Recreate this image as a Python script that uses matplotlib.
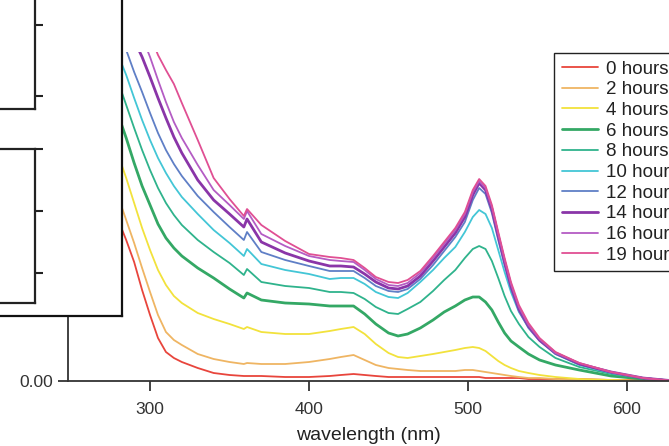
import matplotlib
matplotlib.use("Agg")
import matplotlib.pyplot as plt
from matplotlib.ticker import FormatStrFormatter

plt.rcParams['font.family'] = ['Liberation Sans', 'DejaVu Sans']

# ---------------- data ----------------
wavelength = [280, 285, 290, 295, 300, 305, 310, 315, 320, 330, 340, 350, 359, 361, 370,
              385, 400, 413, 420, 428, 435, 442, 450, 456, 462, 470, 478, 485, 492, 498,
              503, 507, 511, 515, 519, 523, 527, 532, 538, 545, 555, 570, 590, 610, 630]

abs_0h = [0.805, 0.705, 0.595, 0.455, 0.330, 0.215, 0.145, 0.115, 0.095, 0.065,
          0.040, 0.030, 0.025, 0.025, 0.025, 0.020, 0.020,
          0.025, 0.030, 0.035, 0.030, 0.025, 0.020, 0.020, 0.020, 0.020, 0.020,
          0.020, 0.020, 0.020, 0.020, 0.020, 0.015, 0.015, 0.015, 0.015, 0.015,
          0.015, 0.010, 0.010, 0.010, 0.010, 0.005, 0.005, 0.000]
abs_2h = [0.920, 0.805, 0.690, 0.565, 0.445, 0.330, 0.245, 0.205, 0.180, 0.135,
          0.110, 0.095, 0.085, 0.090, 0.085, 0.085, 0.095,
          0.110, 0.120, 0.130, 0.105, 0.080, 0.065, 0.060, 0.055, 0.050, 0.050,
          0.050, 0.050, 0.055, 0.055, 0.050, 0.045, 0.040, 0.035, 0.030, 0.025,
          0.020, 0.015, 0.015, 0.010, 0.005, 0.005, 0.000, 0.000]
abs_4h = [1.130, 1.015, 0.890, 0.765, 0.655, 0.555, 0.480, 0.425, 0.390, 0.340,
          0.310, 0.285, 0.260, 0.270, 0.245, 0.235, 0.235,
          0.250, 0.260, 0.270, 0.235, 0.185, 0.140, 0.120, 0.115, 0.125, 0.135,
          0.145, 0.155, 0.165, 0.170, 0.165, 0.150, 0.125, 0.100, 0.080, 0.065,
          0.050, 0.040, 0.030, 0.020, 0.010, 0.005, 0.000, 0.000]
abs_6h = [1.330, 1.215, 1.090, 0.975, 0.880, 0.785, 0.715, 0.665, 0.625, 0.565,
          0.515, 0.460, 0.415, 0.440, 0.405, 0.390, 0.385,
          0.375, 0.375, 0.375, 0.335, 0.285, 0.240, 0.225, 0.235, 0.265, 0.305,
          0.345, 0.375, 0.405, 0.420, 0.420, 0.395, 0.355, 0.295, 0.240, 0.200,
          0.170, 0.135, 0.105, 0.080, 0.055, 0.025, 0.010, 0.000]
abs_8h = [1.495, 1.380, 1.265, 1.155, 1.055, 0.965, 0.890, 0.830, 0.780, 0.705,
          0.645, 0.590, 0.530, 0.560, 0.495, 0.475, 0.465,
          0.445, 0.445, 0.440, 0.410, 0.370, 0.340, 0.335, 0.360, 0.395, 0.450,
          0.505, 0.555, 0.615, 0.660, 0.675, 0.660, 0.600, 0.515, 0.425, 0.350,
          0.285, 0.220, 0.170, 0.115, 0.070, 0.035, 0.015, 0.000]
abs_10h = [1.630, 1.530, 1.415, 1.305, 1.205, 1.115, 1.040, 0.975, 0.920, 0.835,
           0.755, 0.690, 0.625, 0.660, 0.585, 0.555, 0.535,
           0.510, 0.515, 0.515, 0.485, 0.445, 0.420, 0.415, 0.440, 0.495, 0.555,
           0.615, 0.670, 0.745, 0.820, 0.855, 0.835, 0.765, 0.655, 0.545, 0.445,
           0.345, 0.270, 0.205, 0.135, 0.080, 0.040, 0.015, 0.000]
abs_12h = [1.730, 1.655, 1.545, 1.445, 1.340, 1.240, 1.155, 1.085, 1.025, 0.925,
           0.845, 0.770, 0.705, 0.745, 0.645, 0.605, 0.575,
           0.550, 0.550, 0.550, 0.515, 0.475, 0.450, 0.445, 0.460, 0.510, 0.580,
           0.650, 0.720, 0.795, 0.905, 0.965, 0.935, 0.840, 0.705, 0.580, 0.460,
           0.350, 0.265, 0.200, 0.135, 0.085, 0.040, 0.015, 0.000]
abs_14h = [1.855, 1.780, 1.705, 1.620, 1.520, 1.415, 1.315, 1.220, 1.140, 1.005,
           0.905, 0.835, 0.770, 0.810, 0.695, 0.640, 0.600,
           0.575, 0.575, 0.570, 0.535, 0.495, 0.465, 0.460, 0.475, 0.525, 0.600,
           0.670, 0.740, 0.820, 0.930, 0.990, 0.955, 0.860, 0.725, 0.595, 0.475,
           0.360, 0.275, 0.205, 0.140, 0.085, 0.045, 0.015, 0.000]
abs_16h = [1.955, 1.880, 1.805, 1.720, 1.620, 1.505, 1.395, 1.295, 1.215, 1.080,
           0.955, 0.880, 0.810, 0.850, 0.735, 0.675, 0.625,
           0.605, 0.600, 0.595, 0.555, 0.510, 0.480, 0.475, 0.490, 0.540, 0.615,
           0.685, 0.755, 0.835, 0.945, 1.000, 0.965, 0.870, 0.735, 0.605, 0.485,
           0.370, 0.280, 0.210, 0.140, 0.090, 0.045, 0.015, 0.000]
abs_19h = [2.055, 1.980, 1.905, 1.830, 1.730, 1.630, 1.555, 1.485, 1.390, 1.205,
           1.015, 0.910, 0.825, 0.860, 0.780, 0.700, 0.635,
           0.620, 0.615, 0.605, 0.565, 0.520, 0.495, 0.490, 0.505, 0.550, 0.625,
           0.695, 0.765, 0.845, 0.955, 1.010, 0.975, 0.880, 0.745, 0.615, 0.495,
           0.380, 0.290, 0.215, 0.145, 0.090, 0.045, 0.015, 0.000]

series = [abs_0h, abs_2h, abs_4h, abs_6h, abs_8h, abs_10h, abs_12h, abs_14h, abs_16h, abs_19h]
labels = ["0 hours", "2 hours", "4 hours", "6 hours", "8 hours",
          "10 hours", "12 hours", "14 hours", "16 hours", "19 hours"]
colors = ["#e8453c", "#efb563", "#f2e23c", "#34a865", "#2fb38c",
          "#43c6d6", "#5f7fc6", "#8a35a8", "#b45cc4", "#e04f93"]
widths = [1.3, 1.3, 1.3, 2.0, 1.3, 1.3, 1.3, 2.0, 1.3, 1.3]

xticks = [300, 400, 500, 600]
yticks = [0.0, 0.5, 1.0, 1.5]

# ---------------- figure ----------------
W, H = 669, 446
fig = plt.figure(figsize=(W / 100, H / 100), dpi=100)


def rect(x0, y0, x1, y1):
    return [x0 / W, 1 - y1 / H, (x1 - x0) / W, (y1 - y0) / H]


ax = fig.add_axes(rect(68, 52, 669, 381))
for vals, lab, col, lw in zip(series, labels, colors, widths):
    ax.plot(wavelength, vals, color=col, lw=lw, label=lab,
            solid_joinstyle='round', solid_capstyle='round')

ax.set_xlim(248.4, 626.4)
ax.set_ylim(0, 1.645)
ax.set_xticks(xticks)
ax.set_yticks(yticks)
ax.yaxis.set_major_formatter(FormatStrFormatter('%.2f'))
for s in ['top', 'right']:
    ax.spines[s].set_visible(False)
for s in ['left', 'bottom']:
    ax.spines[s].set_color('#333333')
    ax.spines[s].set_linewidth(1.3)
ax.tick_params(axis='both', direction='out', length=7.2, width=1.3, color='#333333',
               labelsize=12.5, labelcolor='#333333')
ax.tick_params(axis='x', pad=8)
ax.tick_params(axis='y', pad=3.5)
ax.set_xlabel('wavelength (nm)', fontsize=14, color='#222222', labelpad=7)

leg = ax.legend(loc='upper left', bbox_to_anchor=(554 / W, 1 - 53 / H),
                bbox_transform=fig.transFigure, frameon=True, fancybox=False,
                edgecolor='#222222', framealpha=1, borderpad=0.4, labelspacing=0.19,
                handlelength=1.97, handletextpad=0.42, borderaxespad=0,
                prop={'size': 13.5})
leg.get_frame().set_linewidth(1.0)
for t in leg.get_texts():
    t.set_color('#222222')

# ---------------- overlapping panel at top-left ----------------
box = fig.add_axes(rect(-60, -60, 122, 316))
box.set_facecolor('white')
box.set_xticks([])
box.set_yticks([])
for s in box.spines.values():
    s.set_color('#111111')
    s.set_linewidth(1.6)

inner1 = fig.add_axes(rect(-60, -100, 35, 109))
inner1.patch.set_alpha(0)
inner1.set_xlim(0, 1)
inner1.set_ylim(0, 209)
inner1.set_xticks([])
inner1.set_yticks([13, 84])
inner1.tick_params(axis='y', left=False, right=True, labelleft=False, labelright=False,
                   direction='out', length=6, width=1.5, color='#222222')
for s in ['left', 'top']:
    inner1.spines[s].set_visible(False)
for s in ['right', 'bottom']:
    inner1.spines[s].set_color('#222222')
    inner1.spines[s].set_linewidth(1.6)

inner2 = fig.add_axes(rect(-60, 149, 35, 303))
inner2.patch.set_alpha(0)
inner2.set_xlim(0, 1)
inner2.set_ylim(0, 154)
inner2.set_xticks([])
inner2.set_yticks([30, 92, 154])
inner2.tick_params(axis='y', left=False, right=True, labelleft=False, labelright=False,
                   direction='out', length=6, width=1.5, color='#222222')
inner2.spines['left'].set_visible(False)
for s in ['right', 'bottom', 'top']:
    inner2.spines[s].set_color('#222222')
    inner2.spines[s].set_linewidth(1.6)

fig.savefig('out.png', dpi=100)
